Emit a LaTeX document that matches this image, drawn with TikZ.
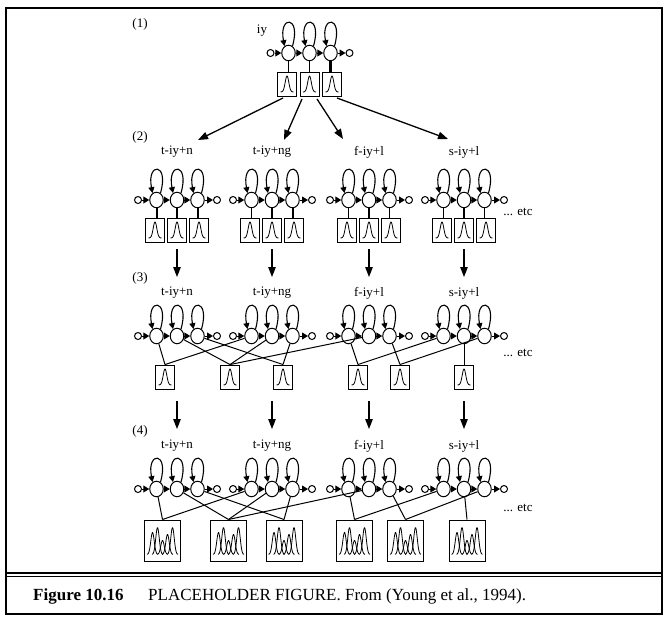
\documentclass[tikz,border=0pt]{standalone}
\usepackage{fontspec}
\setmainfont{Liberation Serif}
\usetikzlibrary{arrows.meta,shapes.geometric}
\tikzset{
  st/.style={ellipse, draw, line width=1pt, minimum width=13.5pt, minimum height=15.5pt, inner sep=0pt},
  term/.style={circle, draw, line width=1pt, minimum size=7pt, inner sep=0pt},
  gbox/.style={rectangle, draw, line width=0.9pt, minimum width=19pt, minimum height=24pt, inner sep=0pt},
  mbox/.style={rectangle, draw, line width=1pt, minimum width=36pt, minimum height=41pt, inner sep=0pt},
  tr/.style={line width=1pt, -{Triangle[length=6pt,width=7pt]}},
  selfloop/.style={line width=1.1pt, -{Triangle[length=6pt,width=6pt]}},
  bigarrow/.style={line width=1.3pt, -{Triangle[length=10pt,width=7.5pt]}},
  lab/.style={font=\fontsize{13}{15}\selectfont, inner sep=0pt},
  tie/.style={line width=1pt},
  curve/.style={line width=0.8pt},
}
\newcommand\hmmodel[4]{%
  \node[st] (#1-s1) at ({#2-#4},#3) {};
  \node[st] (#1-s2) at (#2,#3) {};
  \node[st] (#1-s3) at ({#2+#4},#3) {};
  \node[term] (#1-in) at ({#2-39},#3) {};
  \node[term] (#1-out) at ({#2+40},#3) {};
  \draw[tr] (#1-in) -- (#1-s1);
  \draw[tr] (#1-s1) -- (#1-s2);
  \draw[tr] (#1-s2) -- (#1-s3);
  \draw[tr] (#1-s3) -- (#1-out);
  \draw[selfloop] (#1-s1.60) .. controls +(9,-31) and +(-6,-31) .. (#1-s1.120);
  \draw[selfloop] (#1-s2.60) .. controls +(9,-31) and +(-6,-31) .. (#1-s2.120);
  \draw[selfloop] (#1-s3.60) .. controls +(9,-31) and +(-6,-31) .. (#1-s3.120);
}
\newcommand\gausscurve[1]{%
  \draw[curve, shift={(#1.center)}] plot[domain=-6.5:6.5, samples=40, smooth] (\x, {8-16*exp(-((\x)^2)/6.5)});
}
\newcommand\mixcurve[1]{%
  \foreach \c/\h/\a/\b in {-10/22/-15.5/-4.5, -5/27/-10.5/0.5, 0/14/-5/5, 5/20/-0.5/10.5, 10/27/4.5/15.5} {
    \draw[curve, shift={(#1.center)}] plot[domain=\a:\b, samples=30, smooth] (\x, {14-\h*exp(-((\x-\c)^2)/6)});
  }
}
\begin{document}
\begin{tikzpicture}[x=1pt, y=-1pt]
\useasboundingbox (0,0) rectangle (669,621);
% frame
\draw[line width=2pt] (6,8) rectangle (662,614);
\draw[line width=1.3pt] (6,573) -- (662,573);
\draw[line width=1.3pt] (6,576.5) -- (662,576.5);
\node[font=\fontsize{17}{20}\selectfont\bfseries, anchor=west, inner sep=0pt] (fig) at (33,596) {Figure 10.16};
\node[font=\fontsize{17}{20}\selectfont, anchor=west, inner sep=0pt] (cap) at (148,596) {PLACEHOLDER FIGURE. From (Young et al., 1994).};

% ---------- section (1)
\node[lab] (n1) at (140,24) {(1)};
\node[lab] (iy) at (262,31) {iy};
\hmmodel{a}{309.5}{53}{21}
\node[gbox] (ab1) at (287,84) {};
\node[gbox] (ab2) at (309.5,84) {};
\node[gbox] (ab3) at (332,84) {};
\gausscurve{ab1}\gausscurve{ab2}\gausscurve{ab3}
\draw[line width=1pt] (a-s1) -- (a-s1 |- ab1.north);
\draw[line width=1pt] (a-s2) -- (a-s2 |- ab2.north);
\draw[line width=2.2pt] (a-s3) -- (a-s3 |- ab3.north);

% arrows (1) -> (2)
\coordinate (f1) at (283,98);  \coordinate (t1) at (198,140);
\coordinate (f2) at (302,99);  \coordinate (t2) at (284,140);
\coordinate (f3) at (317,99);  \coordinate (t3) at (343,139);
\coordinate (f4) at (337,98);  \coordinate (t4) at (448,139);
\draw[bigarrow] (f1) -- (t1);
\draw[bigarrow] (f2) -- (t2);
\draw[bigarrow] (f3) -- (t3);
\draw[bigarrow] (f4) -- (t4);

% ---------- section (2)
\node[lab] (n2) at (140,137) {(2)};
\foreach \i/\cx/\txt/\ta/\tb/\tc in {1/177/t-iy+n/2/2/2, 2/272/t-iy+ng/1/2/2, 3/369/f-iy+l/1/2/1, 4/464/s-iy+l/1/2/1} {
  \node[lab] (l2-\i) at (\cx,152) {\txt};
  \hmmodel{p\i}{\cx}{200}{20.5}
  \node[gbox] (p\i-b1) at ({\cx-22},230) {};
  \node[gbox] (p\i-b2) at (\cx,230) {};
  \node[gbox] (p\i-b3) at ({\cx+22},230) {};
  \gausscurve{p\i-b1}\gausscurve{p\i-b2}\gausscurve{p\i-b3}
  \draw[line width=\ta pt] (p\i-s1) -- (p\i-s1 |- p\i-b1.north);
  \draw[line width=\tb pt] (p\i-s2) -- (p\i-s2 |- p\i-b2.north);
  \draw[line width=\tc pt] (p\i-s3) -- (p\i-s3 |- p\i-b3.north);
  \coordinate (u\i) at (\cx,249);
  \coordinate (v\i) at (\cx,277);
  \draw[bigarrow] (u\i) -- (v\i);
  \coordinate (w\i) at (\cx,401);
  \coordinate (z\i) at (\cx,429);
  \draw[bigarrow] (w\i) -- (z\i);
}
\node[lab] (etc2) at (518,212) {... etc};

% ---------- section (3)
\node[lab] (n3) at (140,278) {(3)};
\foreach \i/\cx/\txt in {1/177/t-iy+n, 2/272/t-iy+ng, 3/369/f-iy+l, 4/464/s-iy+l} {
  \node[lab] (l3-\i) at (\cx,293) {\txt};
  \hmmodel{q\i}{\cx}{336}{20.5}
}
\foreach \j/\bx in {1/165, 2/230, 3/283, 4/358, 5/400, 6/464} {
  \node[gbox] (c\j) at (\bx,377) {};
  \gausscurve{c\j}
}
\foreach \m/\s/\b in {1/1/1, 1/2/2, 1/3/3, 2/1/1, 2/2/2, 2/3/3, 3/1/4, 3/2/2, 3/3/5, 4/1/4, 4/2/6, 4/3/5} {
  \draw[tie] (q\m-s\s) -- (c\b.north);
}
\node[lab] (etc3) at (518,353) {... etc};

% ---------- section (4)
\node[lab] (n4) at (140,431) {(4)};
\foreach \i/\cx/\txt in {1/177/t-iy+n, 2/272/t-iy+ng, 3/369/f-iy+l, 4/464/s-iy+l} {
  \node[lab] (l4-\i) at (\cx,446) {\txt};
  \hmmodel{r\i}{\cx}{489}{20.5}
}
\foreach \j/\bx in {1/162.5, 2/228.5, 3/284, 4/354.5, 5/405.5, 6/467} {
  \node[mbox] (d\j) at (\bx,540.5) {};
  \mixcurve{d\j}
}
\foreach \m/\s/\b in {1/1/1, 1/2/2, 1/3/3, 2/1/1, 2/2/2, 2/3/3, 3/1/4, 3/2/2, 3/3/5, 4/1/4, 4/2/6, 4/3/5} {
  \draw[tie] (r\m-s\s) -- (d\b.north);
}
\node[lab] (etc4) at (518,508) {... etc};
\end{tikzpicture}
\end{document}
